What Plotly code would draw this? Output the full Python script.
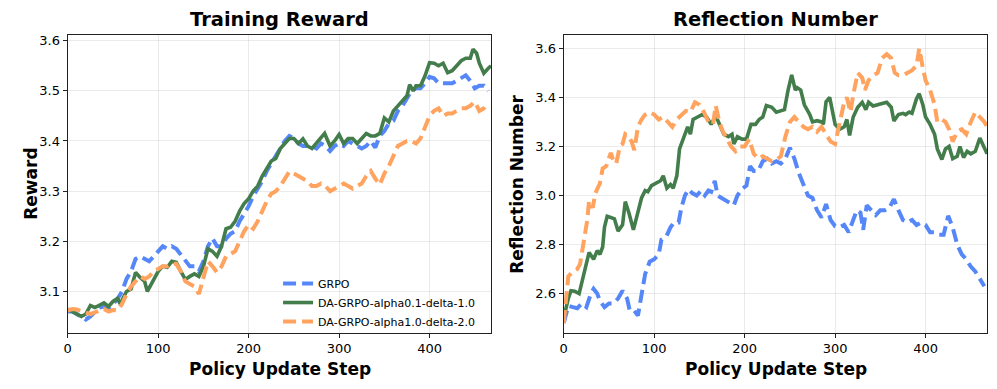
import plotly.graph_objects as go

# ---- Training Reward (left) ----
reward_grpo_x = list(range(0, 470, 5))
reward_grpo_y = [
    3.06, 3.06, 3.055, 3.05, 3.044, 3.05, 3.06, 3.068, 3.07, 3.065,
    3.075, 3.085, 3.1, 3.125, 3.14, 3.165, 3.17, 3.165, 3.16, 3.17,
    3.18, 3.19, 3.185, 3.19, 3.185, 3.174, 3.16, 3.15, 3.15, 3.14,
    3.16, 3.19, 3.206, 3.19, 3.19, 3.205, 3.215, 3.22, 3.24, 3.255,
    3.27, 3.29, 3.305, 3.32, 3.34, 3.355, 3.37, 3.385, 3.4, 3.41,
    3.405, 3.395, 3.39, 3.39, 3.39, 3.385, 3.395, 3.39, 3.38, 3.39,
    3.395, 3.39, 3.4, 3.395, 3.39, 3.385, 3.39, 3.4, 3.387, 3.41,
    3.42, 3.435, 3.44, 3.46, 3.47, 3.485, 3.5, 3.505, 3.505, 3.515,
    3.528, 3.525, 3.515, 3.515, 3.515, 3.515, 3.52, 3.525, 3.531, 3.52,
    3.505, 3.51, 3.51, 3.5,
]

reward_da01_x = [
    0, 5, 10, 15, 20, 25, 30, 35, 40, 45,
    50, 55, 58, 62, 65, 70, 75, 80, 85, 88,
    95, 100, 105, 110, 115, 120, 125, 130, 135, 140,
    145, 150, 155, 160, 165, 170, 175, 180, 185, 190,
    195, 200, 205, 210, 215, 220, 225, 230, 235, 240,
    245, 250, 255, 260, 265, 270, 275, 280, 284, 290,
    295, 300, 305, 310, 315, 320, 325, 330, 335, 340,
    345, 350, 355, 360, 365, 370, 375, 378, 382, 385,
    390, 395, 400, 405, 410, 415, 420, 425, 430, 435,
    440, 445, 448, 452, 455, 460, 465, 468,
]
reward_da01_y = [
    3.065, 3.06, 3.053, 3.05, 3.055, 3.072, 3.068, 3.073, 3.077, 3.07,
    3.08, 3.086, 3.075, 3.09, 3.1, 3.105, 3.138, 3.128, 3.12, 3.1,
    3.125, 3.14, 3.15, 3.148, 3.16, 3.158, 3.14, 3.124, 3.13, 3.135,
    3.13, 3.15, 3.185, 3.18, 3.17, 3.19, 3.225, 3.228, 3.24, 3.26,
    3.275, 3.285, 3.3, 3.31, 3.33, 3.345, 3.36, 3.365, 3.385, 3.395,
    3.405, 3.405, 3.395, 3.404, 3.39, 3.385, 3.395, 3.405, 3.415, 3.39,
    3.4, 3.413, 3.395, 3.405, 3.405, 3.395, 3.405, 3.415, 3.41, 3.41,
    3.415, 3.446, 3.438, 3.46, 3.47, 3.48, 3.49, 3.512, 3.5, 3.51,
    3.51, 3.53, 3.556, 3.555, 3.55, 3.555, 3.536, 3.54, 3.55, 3.56,
    3.565, 3.565, 3.583, 3.575, 3.555, 3.535, 3.545, 3.55,
]

reward_da10_x = list(range(0, 470, 5))
reward_da10_y = [
    3.062, 3.065, 3.064, 3.06, 3.058, 3.055, 3.058, 3.06, 3.065, 3.06,
    3.063, 3.062, 3.075, 3.095, 3.11, 3.12, 3.13, 3.125, 3.13, 3.14,
    3.145, 3.15, 3.15, 3.155, 3.155, 3.14, 3.12, 3.115, 3.11, 3.095,
    3.13, 3.16, 3.15, 3.138, 3.15, 3.17, 3.175, 3.18, 3.2, 3.22,
    3.233, 3.225, 3.24, 3.26, 3.28, 3.295, 3.3, 3.31, 3.325, 3.339,
    3.335, 3.33, 3.325, 3.32, 3.31, 3.31, 3.315, 3.31, 3.3, 3.305,
    3.31, 3.315, 3.31, 3.305, 3.31, 3.315, 3.33, 3.34, 3.325, 3.313,
    3.335, 3.35, 3.37, 3.39, 3.395, 3.4, 3.4, 3.395, 3.405, 3.43,
    3.45, 3.46, 3.465, 3.45, 3.455, 3.455, 3.46, 3.465, 3.465, 3.47,
    3.478, 3.46, 3.465, 3.475,
]

# ---- Reflection Number (right) ----
refl_grpo_x = [
    0, 3, 5, 10, 15, 20, 25, 30, 33, 37,
    40, 45, 50, 55, 60, 65, 70, 73, 78, 82,
    86, 90, 95, 100, 105, 108, 113, 118, 122, 127,
    130, 134, 138, 142, 147, 152, 156, 160, 163, 167,
    170, 175, 180, 185, 188, 192, 198, 202, 206, 210,
    215, 220, 225, 230, 235, 240, 245, 250, 255, 260,
    265, 270, 275, 280, 285, 290, 295, 300, 305, 310,
    315, 320, 324, 328, 331, 335, 340, 345, 350, 355,
    360, 365, 370, 375, 380, 385, 390, 395, 400, 405,
    410, 415, 420, 425, 430, 435, 440, 445, 450, 455,
    460, 465,
]
refl_grpo_y = [
    2.48, 2.52, 2.55, 2.545, 2.54, 2.56, 2.545, 2.6, 2.619, 2.6,
    2.57, 2.545, 2.56, 2.56, 2.58, 2.612, 2.58, 2.53, 2.53, 2.51,
    2.6, 2.68, 2.73, 2.74, 2.76, 2.82, 2.83, 2.87, 2.89, 2.89,
    2.95, 3.0, 3.025, 3.01, 3.0, 3.02, 3.0, 3.02, 3.015, 3.06,
    3.0, 2.99, 2.98, 2.97, 2.96, 3.0, 3.03, 3.04, 3.12, 3.1,
    3.1, 3.14, 3.15, 3.13, 3.14, 3.13, 3.15, 3.195, 3.15, 3.09,
    3.04, 3.0, 2.99, 2.94, 2.91, 2.965, 2.9, 2.875, 2.87, 2.88,
    2.85, 2.9, 2.94, 2.93, 2.86, 2.96, 2.94, 2.92, 2.94, 2.94,
    2.95, 2.985, 2.94, 2.9, 2.89, 2.9, 2.88, 2.89, 2.88, 2.85,
    2.85, 2.84, 2.84, 2.917, 2.87, 2.8, 2.76, 2.74, 2.71, 2.69,
    2.66, 2.63,
]

refl_da01_x = [
    0, 3, 5, 8, 12, 17, 20, 25, 28, 33,
    37, 40, 43, 45, 48, 52, 56, 60, 65, 68,
    72, 77, 82, 86, 90, 93, 97, 102, 107, 110,
    114, 118, 121, 125, 128, 133, 137, 140, 143, 148,
    153, 158, 163, 168, 172, 177, 182, 186, 188, 192,
    197, 202, 207, 212, 216, 220, 224, 230, 235, 240,
    244, 248, 252, 256, 258, 262, 266, 272, 275, 280,
    285, 287, 290, 294, 297, 300, 305, 310, 313, 316,
    320, 325, 330, 334, 337, 342, 347, 352, 357, 362,
    365, 370, 375, 378, 382, 385, 390, 393, 397, 400,
    405, 410, 413, 418, 422, 426, 430, 435, 438, 442,
    446, 450, 455, 460, 465, 468,
]
refl_da01_y = [
    2.5, 2.55, 2.58, 2.612, 2.61, 2.6, 2.65, 2.72, 2.768, 2.74,
    2.775, 2.76, 2.79, 2.87, 2.915, 2.91, 2.905, 2.855, 2.88, 2.975,
    2.93, 2.86, 2.93, 2.99, 3.02, 3.015, 3.04, 3.05, 3.06, 3.08,
    3.03, 3.045, 3.03, 3.08, 3.19, 3.24, 3.28, 3.25, 3.31, 3.32,
    3.33, 3.32, 3.29, 3.325, 3.29, 3.25, 3.24, 3.25, 3.21, 3.24,
    3.23, 3.23, 3.29, 3.29, 3.31, 3.32, 3.367, 3.36, 3.34, 3.345,
    3.35, 3.43, 3.492, 3.43, 3.44, 3.43, 3.37, 3.33, 3.3, 3.305,
    3.3, 3.29, 3.382, 3.4, 3.35, 3.29, 3.27, 3.28, 3.31, 3.245,
    3.32, 3.36, 3.38, 3.35, 3.38, 3.365, 3.37, 3.375, 3.38, 3.36,
    3.304, 3.33, 3.335, 3.33, 3.34, 3.335, 3.395, 3.415, 3.37, 3.32,
    3.29, 3.25, 3.19, 3.147, 3.19, 3.2, 3.15, 3.16, 3.2, 3.155,
    3.18, 3.17, 3.18, 3.234, 3.19, 3.17,
]

refl_da10_x = [
    0, 3, 5, 10, 15, 18, 22, 26, 28, 32,
    35, 40, 43, 47, 52, 55, 58, 62, 65, 68,
    72, 75, 78, 82, 86, 90, 95, 100, 105, 110,
    115, 120, 125, 130, 135, 140, 145, 150, 155, 160,
    165, 168, 172, 176, 180, 185, 190, 195, 200, 205,
    210, 215, 220, 225, 230, 235, 240, 245, 250, 255,
    260, 265, 270, 275, 280, 285, 290, 295, 300, 305,
    310, 313, 317, 320, 325, 330, 333, 337, 342, 347,
    352, 357, 362, 366, 370, 375, 380, 385, 390, 393,
    397, 400, 405, 410, 413, 418, 422, 426, 430, 435,
    440, 445, 450, 455, 460, 465, 468,
]
refl_da10_y = [
    2.48, 2.6, 2.67, 2.69, 2.7, 2.72, 2.8, 2.9, 2.98, 2.95,
    3.01, 3.05, 3.11, 3.12, 3.174, 3.14, 3.13, 3.2, 3.21, 3.25,
    3.24, 3.22, 3.185, 3.28, 3.31, 3.33, 3.34, 3.33, 3.31, 3.32,
    3.3, 3.28, 3.31, 3.33, 3.345, 3.34, 3.38, 3.37, 3.34, 3.3,
    3.29, 3.367, 3.3, 3.26, 3.23, 3.2, 3.18, 3.2, 3.2, 3.23,
    3.17, 3.15, 3.16, 3.15, 3.14, 3.145, 3.16, 3.24, 3.3, 3.32,
    3.3, 3.28, 3.27, 3.28, 3.26, 3.28, 3.25, 3.22, 3.21, 3.3,
    3.38, 3.4, 3.34, 3.41, 3.5, 3.48, 3.43, 3.47, 3.49, 3.5,
    3.56, 3.576, 3.56, 3.5, 3.49, 3.49, 3.5, 3.51, 3.53, 3.6,
    3.52, 3.47, 3.43, 3.37, 3.3, 3.31, 3.3, 3.27, 3.22, 3.26,
    3.27, 3.25, 3.3, 3.34, 3.32, 3.3, 3.28,
]

names = ["GRPO", "DA-GRPO-alpha0.1-delta-1.0", "DA-GRPO-alpha1.0-delta-2.0"]
colors = ["#5587f8", "#427d4b", "#ffa35f"]
dashes = ["13px,6px", "solid", "13px,6px"]
widths = [4, 3.6, 4]

FONT = "DejaVu Sans"
fig = go.Figure()

panels = [
    ("x", "y", [(reward_grpo_x, reward_grpo_y), (reward_da01_x, reward_da01_y),
                (reward_da10_x, reward_da10_y)], True),
    ("x2", "y2", [(refl_grpo_x, refl_grpo_y), (refl_da01_x, refl_da01_y),
                  (refl_da10_x, refl_da10_y)], False),
]
for xa, ya, series, show in panels:
    for i, (xs, ys) in enumerate(series):
        assert len(xs) == len(ys), (names[i], len(xs), len(ys))
        fig.add_trace(go.Scatter(
            x=xs, y=ys, mode="lines", name=names[i], showlegend=show,
            line=dict(color=colors[i], width=widths[i], dash=dashes[i]),
            xaxis=xa, yaxis=ya,
        ))

axis_common = dict(
    showline=True, linecolor="#222", linewidth=1.3, mirror=True,
    ticks="outside", ticklen=4, tickcolor="#222", tickwidth=1.2,
    showgrid=True, gridcolor="rgba(0,0,0,0.08)", gridwidth=1,
    zeroline=False, tickfont=dict(family=FONT, size=13, color="black"),
)
ydom = [0.1458, 0.9144]
fig.update_layout(
    width=997, height=389,
    margin=dict(l=0, r=0, t=0, b=0),
    paper_bgcolor="white", plot_bgcolor="white",
    font=dict(family=FONT, color="black"),
    xaxis=dict(domain=[0.0642, 0.4905], range=[0, 468], tickvals=[0, 100, 200, 300, 400],
               anchor="y", **axis_common),
    yaxis=dict(domain=ydom, range=[3.018, 3.611], tickvals=[3.1, 3.2, 3.3, 3.4, 3.5, 3.6],
               tickformat=".1f", anchor="x", **axis_common),
    xaxis2=dict(domain=[0.5637, 0.99], range=[0, 468], tickvals=[0, 100, 200, 300, 400],
                anchor="y2", **axis_common),
    yaxis2=dict(domain=ydom, range=[2.441, 3.654], tickvals=[2.6, 2.8, 3.0, 3.2, 3.4, 3.6],
                tickformat=".1f", anchor="x2", **axis_common),
    legend=dict(x=0.276, y=0.31, xanchor="left", yanchor="top",
                bgcolor="rgba(255,255,255,0)", borderwidth=0,
                font=dict(family=FONT, size=11), itemwidth=30, tracegroupgap=0),
    annotations=[
        dict(text="<b>Training Reward</b>", x=0.2777, y=0.9537, xref="paper", yref="paper",
             xanchor="center", yanchor="middle", showarrow=False, font=dict(size=19.5)),
        dict(text="<b>Reflection Number</b>", x=0.777, y=0.9537, xref="paper", yref="paper",
             xanchor="center", yanchor="middle", showarrow=False, font=dict(size=19.5)),
        dict(text="<b>Policy Update Step</b>", x=0.2777, y=0.0514, xref="paper", yref="paper",
             xanchor="center", yanchor="middle", showarrow=False, font=dict(size=17)),
        dict(text="<b>Policy Update Step</b>", x=0.777, y=0.0514, xref="paper", yref="paper",
             xanchor="center", yanchor="middle", showarrow=False, font=dict(size=17)),
        dict(text="<b>Reward</b>", x=0.0271, y=0.53, xref="paper", yref="paper",
             xanchor="center", yanchor="middle", textangle=-90, showarrow=False,
             font=dict(size=17)),
        dict(text="<b>Reflection Number</b>", x=0.5165, y=0.53, xref="paper", yref="paper",
             xanchor="center", yanchor="middle", textangle=-90, showarrow=False,
             font=dict(size=17)),
    ],
)

fig.write_html("out.html", config={"displayModeBar": False},
               post_script="document.body.style.margin='0';")
